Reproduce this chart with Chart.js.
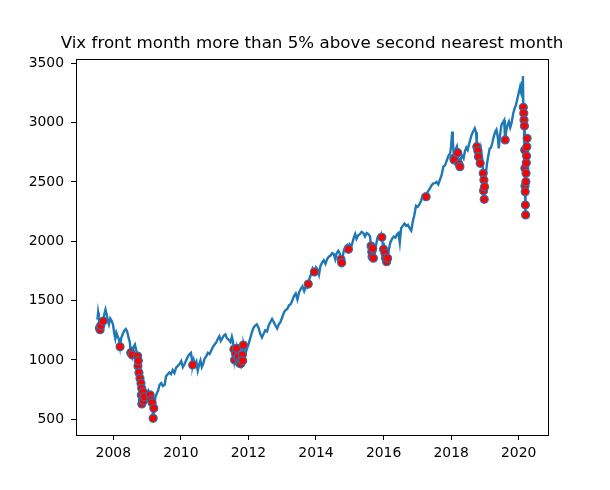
<!DOCTYPE html>
<html><head><meta charset="utf-8">
<script src="https://cdn.jsdelivr.net/npm/chart.js@4.4.0/dist/chart.umd.min.js"></script>
<style>html,body{margin:0;padding:0;background:#fff}#wrap{width:610px;height:490px;position:relative}</style>
</head><body><div id="wrap"><canvas id="c"></canvas></div>
<script>
const titleText = 'Vix front month more than 5% above second nearest month';
const xTicks = [2008, 2010, 2012, 2014, 2016, 2018, 2020];
const yTicks = [500, 1000, 1500, 2000, 2500, 3000, 3500];

const lineDates = [
  2007.53, 2007.55, 2007.57, 2007.59, 2007.61, 2007.63, 2007.66, 2007.70, 2007.73, 2007.77,
  2007.80, 2007.84, 2007.87, 2007.91, 2007.95, 2007.99, 2008.03, 2008.06, 2008.09, 2008.13,
  2008.17, 2008.20, 2008.23, 2008.27, 2008.32, 2008.37, 2008.41, 2008.45, 2008.49, 2008.515,
  2008.54, 2008.56, 2008.60, 2008.64, 2008.68, 2008.72, 2008.73, 2008.74, 2008.76, 2008.79,
  2008.80, 2008.82, 2008.83, 2008.84, 2008.845, 2008.86, 2008.88, 2008.89, 2008.91, 2008.92,
  2008.95, 2008.99, 2009.03, 2009.06, 2009.09, 2009.12, 2009.15, 2009.18, 2009.20, 2009.22,
  2009.25, 2009.29, 2009.33, 2009.37, 2009.42, 2009.47, 2009.52, 2009.56, 2009.61, 2009.66,
  2009.71, 2009.76, 2009.81, 2009.86, 2009.91, 2009.96, 2010.01, 2010.06, 2010.11, 2010.16,
  2010.21, 2010.26, 2010.30, 2010.33, 2010.35, 2010.38, 2010.42, 2010.46, 2010.50, 2010.54,
  2010.58, 2010.62, 2010.66, 2010.70, 2010.75, 2010.80, 2010.85, 2010.90, 2010.95, 2011.00,
  2011.05, 2011.10, 2011.14, 2011.18, 2011.22, 2011.27, 2011.32, 2011.37, 2011.42, 2011.47,
  2011.51, 2011.54, 2011.57, 2011.59, 2011.62, 2011.65, 2011.68, 2011.70, 2011.73, 2011.75,
  2011.77, 2011.80, 2011.82, 2011.83, 2011.85, 2011.88, 2011.92, 2011.96, 2012.00, 2012.05,
  2012.10, 2012.15, 2012.20, 2012.25, 2012.30, 2012.35, 2012.40, 2012.45, 2012.50, 2012.55,
  2012.60, 2012.65, 2012.70, 2012.75, 2012.80, 2012.85, 2012.90, 2012.95, 2013.00, 2013.05,
  2013.10, 2013.15, 2013.20, 2013.25, 2013.30, 2013.35, 2013.40, 2013.45, 2013.50, 2013.55,
  2013.60, 2013.65, 2013.70, 2013.74, 2013.77, 2013.80, 2013.85, 2013.90, 2013.95, 2014.00,
  2014.05, 2014.09, 2014.13, 2014.18, 2014.23, 2014.28, 2014.33, 2014.38, 2014.43, 2014.48,
  2014.53, 2014.57, 2014.61, 2014.66, 2014.70, 2014.74, 2014.76, 2014.79, 2014.83, 2014.88,
  2014.93, 2014.96, 2015.00, 2015.04, 2015.08, 2015.12, 2015.16, 2015.20, 2015.25, 2015.30,
  2015.35, 2015.40, 2015.45, 2015.50, 2015.55, 2015.60, 2015.63, 2015.65, 2015.66, 2015.68,
  2015.70, 2015.71, 2015.74, 2015.78, 2015.82, 2015.86, 2015.90, 2015.93, 2015.95, 2015.97,
  2016.00, 2016.02, 2016.04, 2016.06, 2016.09, 2016.12, 2016.15, 2016.20, 2016.25, 2016.30,
  2016.35, 2016.40, 2016.44, 2016.48, 2016.52, 2016.57, 2016.62, 2016.67, 2016.72, 2016.77,
  2016.82, 2016.86, 2016.91, 2016.96, 2017.01, 2017.06, 2017.11, 2017.16, 2017.21, 2017.26,
  2017.31, 2017.36, 2017.42, 2017.47, 2017.52, 2017.57, 2017.62, 2017.67, 2017.72, 2017.77,
  2017.82, 2017.87, 2017.92, 2017.97, 2018.00, 2018.03, 2018.05, 2018.07, 2018.08, 2018.09,
  2018.11, 2018.14, 2018.17, 2018.195, 2018.21, 2018.23, 2018.26, 2018.29, 2018.33, 2018.37,
  2018.41, 2018.45, 2018.49, 2018.53, 2018.57, 2018.61, 2018.66, 2018.70, 2018.74, 2018.76,
  2018.79, 2018.81, 2018.83, 2018.86, 2018.89, 2018.92, 2018.95, 2018.96, 2018.97, 2018.98,
  2018.99, 2019.02, 2019.06, 2019.10, 2019.14, 2019.18, 2019.22, 2019.26, 2019.30, 2019.34,
  2019.38, 2019.41, 2019.45, 2019.49, 2019.53, 2019.57, 2019.59, 2019.60, 2019.63, 2019.67,
  2019.71, 2019.75, 2019.79, 2019.84, 2019.88, 2019.92, 2019.96, 2020.00, 2020.04, 2020.07,
  2020.10, 2020.125, 2020.137, 2020.150, 2020.158, 2020.170, 2020.178, 2020.183, 2020.187, 2020.192,
  2020.198, 2020.205, 2020.212, 2020.217, 2020.225, 2020.232, 2020.240, 2020.248, 2020.255, 2020.261
];
const lineValues = [
  1340, 1400, 1360, 1270, 1255, 1290, 1340, 1328, 1380, 1425,
  1390, 1330, 1300, 1350, 1330, 1300, 1220, 1180, 1230, 1200,
  1170, 1112, 1180, 1210, 1245, 1260, 1240, 1190, 1150, 1061,
  1080, 1042, 1110, 1130, 1080, 1033, 949, 994, 893, 845,
  870, 803, 705, 761, 629, 663, 730, 657, 720, 690,
  730, 720, 740, 700, 705, 663, 640, 508, 593, 640,
  690, 720, 745, 790, 805, 780, 790, 860, 880, 895,
  880, 915, 890, 935, 950, 965, 990, 940, 965, 1000,
  1030, 1050, 1060, 1000, 958, 1000, 960, 985, 910, 960,
  995, 940, 965, 1010, 1030, 1060, 1050, 1080, 1110, 1130,
  1150, 1180, 1200, 1160, 1180, 1205, 1215, 1180, 1170, 1150,
  1195, 1160, 1090, 1000, 1050, 1098, 1020, 1028, 975, 985,
  967, 1060, 1042, 994, 1126, 1080, 1060, 1100, 1130, 1180,
  1230, 1270, 1290, 1300, 1270, 1220, 1190, 1220, 1250, 1240,
  1290, 1320, 1345, 1320, 1290, 1265, 1300, 1320, 1360, 1400,
  1420, 1430, 1460, 1470, 1500, 1540, 1560, 1510, 1570, 1600,
  1620, 1580, 1620, 1610, 1640, 1680, 1720, 1770, 1741, 1780,
  1760, 1720, 1790, 1820, 1840, 1810, 1850, 1870, 1880, 1900,
  1890, 1850, 1900, 1920, 1900, 1848, 1820, 1870, 1930, 1960,
  1970, 1933, 1970, 1950, 1990, 2030, 2060, 2020, 2050, 2060,
  2080, 2070, 2040, 2070, 2060, 2040, 1960, 1912, 1870, 1940,
  1857, 1960, 1900, 1970, 2030, 2050, 2040, 2060, 2034, 1990,
  1933, 1950, 1899, 1860, 1828, 1857, 1920, 1990, 2020, 2040,
  2030, 2060, 2070, 1990, 2110, 2130, 2150, 2130, 2140, 2110,
  2090, 2160, 2220, 2300, 2290, 2310, 2340, 2390, 2390, 2376,
  2420, 2440, 2470, 2488, 2490, 2500, 2480, 2520, 2560, 2629,
  2640, 2680, 2720, 2741, 2800, 2924, 2850, 2760, 2700, 2685,
  2740, 2780, 2800, 2747, 2700, 2651, 2629, 2700, 2720, 2700,
  2760, 2790, 2770, 2820, 2860, 2900, 2930, 2952, 2920, 2797,
  2763, 2713, 2780, 2657, 2760, 2700, 2573, 2427, 2517, 2354,
  2460, 2550, 2650, 2720, 2780, 2790, 2830, 2880, 2920, 2940,
  2880, 2783, 2900, 2980, 3000, 3020, 2900, 2854, 2930, 2980,
  3008, 2960, 3000, 3080, 3120, 3150, 3200, 3250, 3300, 3260,
  3340, 3392, 3129, 3079, 3022, 2972, 2769, 2615, 2466, 2418,
  2306, 2222, 2502, 2573, 2662, 2719, 2797, 2868, 2820, 2850
];

const dotDates = [
  2007.59, 2007.61, 2007.63, 2007.70, 2008.20, 2008.515, 2008.56, 2008.72, 2008.73, 2008.74,
  2008.76, 2008.79, 2008.82, 2008.83, 2008.84, 2008.845, 2008.86, 2008.88, 2008.89, 2008.92,
  2009.09, 2009.12, 2009.15, 2009.18, 2009.20, 2010.35, 2011.57, 2011.59, 2011.62, 2011.65,
  2011.68, 2011.70, 2011.73, 2011.75, 2011.77, 2011.82, 2011.83, 2011.85, 2013.77, 2013.95,
  2014.74, 2014.76, 2014.96, 2015.63, 2015.65, 2015.66, 2015.68, 2015.70, 2015.95, 2016.00,
  2016.04, 2016.06, 2016.09, 2016.12, 2017.26, 2018.08, 2018.09, 2018.195, 2018.23, 2018.26,
  2018.76, 2018.79, 2018.81, 2018.86, 2018.95, 2018.96, 2018.97, 2018.98, 2018.99, 2019.60,
  2020.137, 2020.150, 2020.158, 2020.170, 2020.178, 2020.183, 2020.187, 2020.192, 2020.198, 2020.205,
  2020.212, 2020.217, 2020.225, 2020.232, 2020.240, 2020.248
];
const dotValues = [
  1270, 1255, 1290, 1328, 1112, 1061, 1042, 1033, 949, 994,
  893, 845, 803, 705, 761, 629, 663, 730, 657, 690,
  705, 663, 640, 508, 593, 958, 1090, 1000, 1050, 1098,
  1020, 1028, 975, 985, 967, 1042, 994, 1126, 1640, 1741,
  1848, 1820, 1933, 1960, 1912, 1870, 1940, 1857, 2034, 1933,
  1899, 1860, 1828, 1857, 2376, 2700, 2685, 2747, 2651, 2629,
  2797, 2763, 2713, 2657, 2573, 2427, 2517, 2354, 2460, 2854,
  3129, 3079, 3022, 2972, 2769, 2615, 2466, 2418, 2306, 2222,
  2502, 2573, 2662, 2719, 2797, 2868
];

const linePoints = lineDates.map((d, i) => ({x: d, y: lineValues[i]}));
const dotPoints = dotDates.map((d, i) => ({x: d, y: dotValues[i]}));

const framePlugin = {
  id: 'frame',
  afterDatasetsDraw(chart) {
    const a = chart.chartArea, ctx = chart.ctx;
    ctx.save();
    ctx.strokeStyle = '#000';
    ctx.lineWidth = 1;
    ctx.strokeRect(Math.round(a.left) + 0.5, Math.round(a.top) + 0.5,
      Math.round(a.right - a.left) - 1, Math.round(a.bottom - a.top) - 1);
    ctx.restore();
  }
};

const tickFont = {family: "'DejaVu Sans', sans-serif", size: 13.9};

new Chart(document.getElementById('c'), {
  type: 'scatter',
  data: {
    datasets: [
      {
        type: 'line', data: dotPoints, showLine: false, order: 0,
        pointRadius: 4, pointBorderWidth: 1.2,
        pointBackgroundColor: '#ff0000', pointBorderColor: '#1f77b4'
      },
      {
        type: 'line', data: linePoints, showLine: true, order: 1,
        borderColor: '#1f77b4', borderWidth: 2.4, pointRadius: 0, tension: 0, fill: false
      }
    ]
  },
  options: {
    responsive: true, maintainAspectRatio: false, devicePixelRatio: 1, animation: false,
    layout: {padding: {top: 0, right: 0, bottom: 0, left: 14}},
    plugins: {
      legend: {display: false}, tooltip: {enabled: false},
      title: {
        display: true, text: titleText, fullSize: true, color: '#000',
        font: {family: "'DejaVu Sans', sans-serif", size: 16.7, weight: 'normal', lineHeight: 1.2},
        padding: {top: 34, bottom: 5}
      }
    },
    events: [],
    scales: {
      x: {
        type: 'linear', min: 2006.896, max: 2020.897,
        afterFit(s) { s.height = 54; },
        afterBuildTicks(s) { s.ticks = xTicks.map(v => ({value: v})); },
        border: {display: false},
        grid: {display: true, drawOnChartArea: false, drawTicks: true, tickLength: 4, tickColor: '#000', tickWidth: 1},
        ticks: {autoSkip: false, maxRotation: 0, color: '#000', font: tickFont, padding: 5,
          callback: v => String(v)}
      },
      y: {
        type: 'linear', position: 'left', min: 359, max: 3536,
        afterFit(s) { s.width = 62; },
        afterBuildTicks(s) { s.ticks = yTicks.map(v => ({value: v})); },
        border: {display: false},
        grid: {display: true, drawOnChartArea: false, drawTicks: true, tickLength: 5, tickColor: '#000', tickWidth: 1},
        ticks: {color: '#000', font: tickFont, padding: 7, callback: v => String(v)}
      },
      yRightGap: {
        type: 'linear', position: 'right', display: true,
        afterFit(s) { s.width = 61; },
        border: {display: false},
        grid: {display: false},
        ticks: {display: false}
      }
    }
  },
  plugins: [framePlugin]
});
</script>
</body></html>
